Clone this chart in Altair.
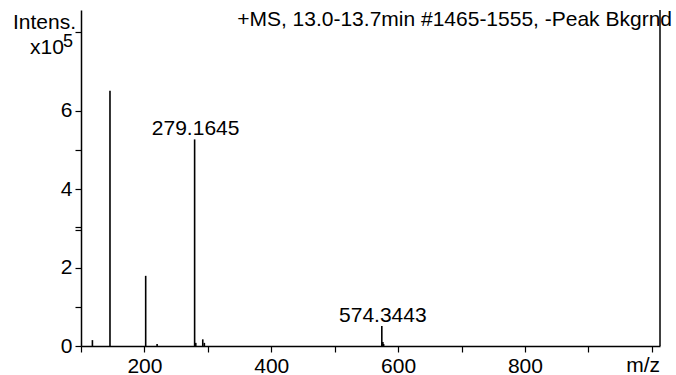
import altair as alt
import pandas as pd

# peak list (m/z, intensity in units of 1e5)
mz = [118.0, 145.7, 202.0, 220.0, 279.1645, 281.0, 292.0, 294.5, 574.3443, 576.0, 577.2]
intens = [0.15, 6.51, 1.79, 0.05, 5.27, 0.08, 0.17, 0.08, 0.51, 0.10, 0.05]
labels = ["", "", "", "", "279.1645", "", "", "", "574.3443", "", ""]

x_ticks = [100, 200, 300, 400, 500, 600, 700, 800, 900, 1000]
x_labels = [200, 400, 600, 800]
y_ticks = [0, 1, 2, 2.97, 3.03, 4, 5, 6, 8]
y_labels = [0, 2, 4, 6]

FONT = "Liberation Sans"
FS = 21

df = pd.DataFrame({"mz": mz, "intens": intens, "label": labels})

xs = alt.Scale(domain=[100, 1013], nice=False, zero=False)
ys = alt.Scale(domain=[0, 8.571], nice=False)

x_label_expr = "indexof([" + ",".join(str(v) for v in x_labels) + "], datum.value) >= 0 ? format(datum.value, 'd') : ''"
y_label_expr = "indexof([" + ",".join(str(v) for v in y_labels) + "], datum.value) >= 0 ? format(datum.value, 'd') : ''"

peaks = alt.Chart(df).mark_rule(color="black", strokeWidth=1.6).encode(
    x=alt.X("mz:Q", scale=xs, axis=alt.Axis(
        values=x_ticks, labelExpr=x_label_expr, title=None, grid=False,
        labelFlush=False, labelOverlap=False, labelPadding=3, tickCount=40,
        tickSize=6)),
    y=alt.Y("intens:Q", scale=ys, axis=alt.Axis(
        values=y_ticks, labelExpr=y_label_expr, title=None, grid=False,
        labelFlush=False, labelOverlap=False, labelPadding=3, tickCount=40,
        tickSize=6)),
    y2=alt.datum(0),
)

peak_labels = alt.Chart(df).mark_text(
    font=FONT, fontSize=FS, color="black", align="center", baseline="alphabetic", dy=-4, dx=1
).encode(
    x=alt.X("mz:Q", scale=xs),
    y=alt.Y("intens:Q", scale=ys),
    text="label:N",
)

one = alt.Data(values=[{"k": 1}])

def txt(s, x, y, align="left", size=FS):
    return alt.Chart(one).mark_text(
        font=FONT, fontSize=size, color="black", align=align, baseline="alphabetic"
    ).encode(x=alt.value(x), y=alt.value(y), text=alt.value(s))

# text positions are relative to the plot area (left 81, top 10)
title = txt("+MS, 13.0-13.7min #1465-1555, -Peak Bkgrnd", 591, 16, align="right")
intens_t = txt("Intens.", -5, 18.5, align="right")
x10 = txt("x10", -51, 43.5, align="left")
sup5 = txt("5", -18, 37, align="left", size=18)
mzt = txt("m/z", 579, 362, align="right")

border = alt.Chart(one).mark_rule(color="black", strokeWidth=1.5).encode(
    x=alt.value(579), y=alt.value(0), y2=alt.value(336)
)

chart = alt.layer(peaks, peak_labels, border, title, intens_t, x10, sup5, mzt).properties(
    width=579, height=336,
    autosize=alt.AutoSizeParams(type="none"),
    padding={"left": 81, "top": 10, "right": 16, "bottom": 29},
).configure_view(strokeOpacity=0).configure_axis(
    domainColor="black", domainWidth=1.5, tickColor="black", tickWidth=1.2,
    labelFont=FONT, labelFontSize=FS, labelColor="black",
)

chart.save("out.html", embed_options={"renderer": "svg", "actions": False})
